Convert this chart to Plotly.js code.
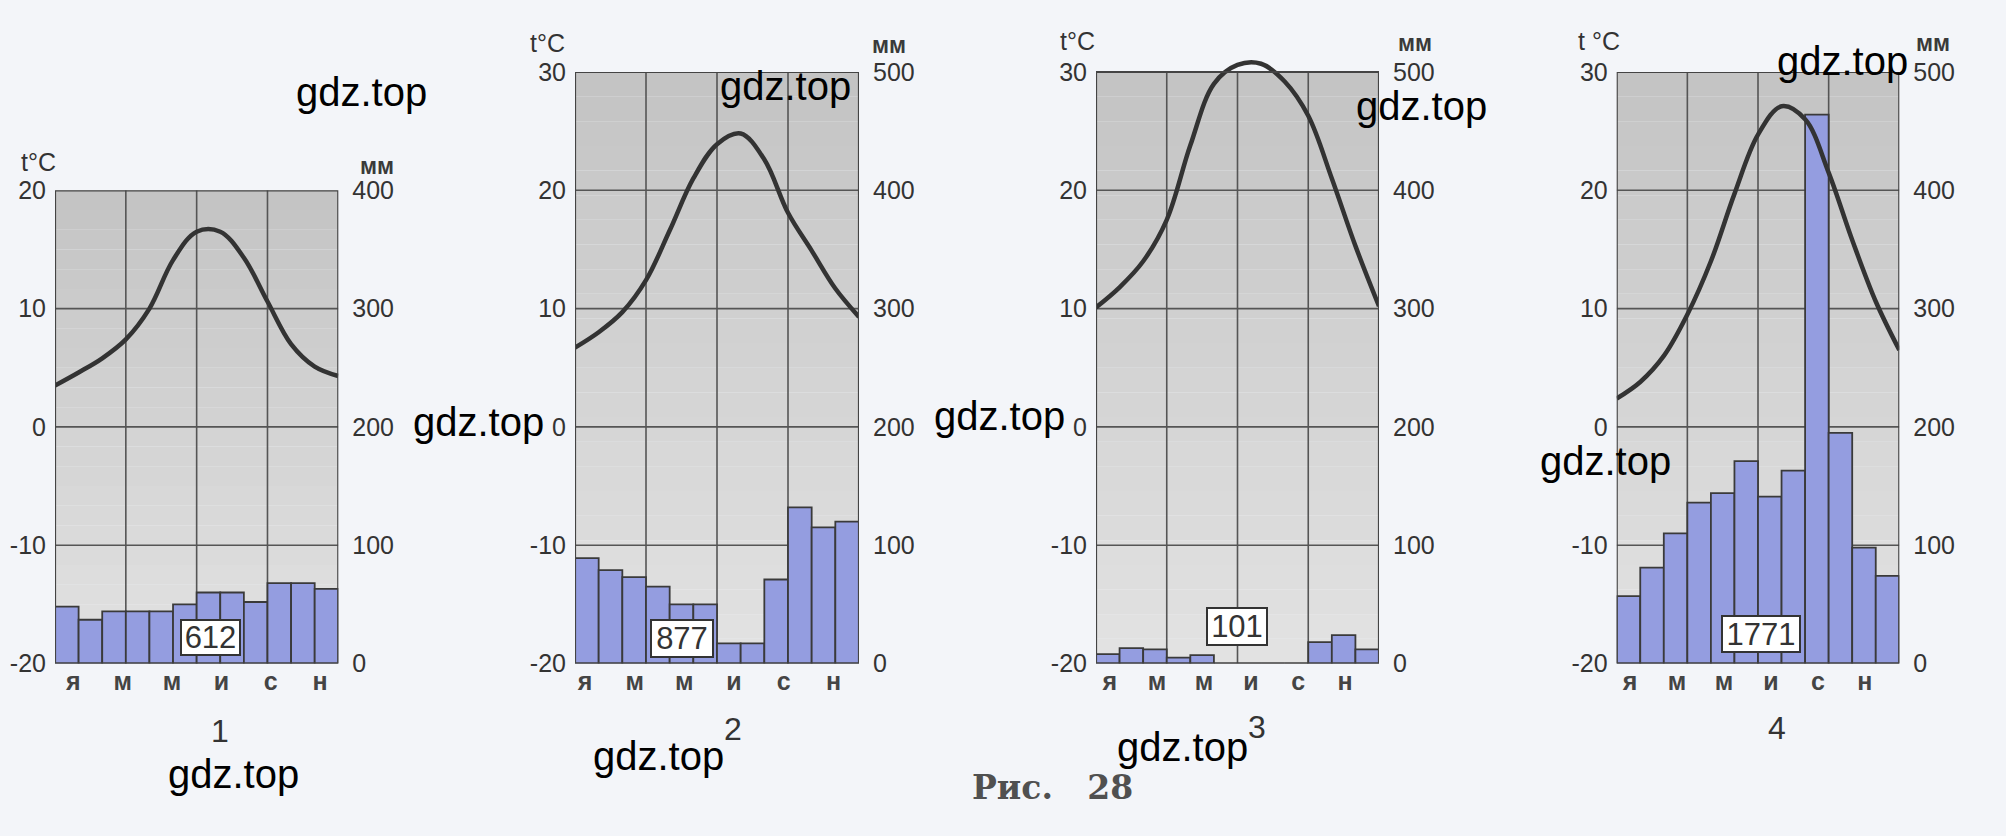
<!DOCTYPE html>
<html>
<head>
<meta charset="utf-8">
<script src="https://cdn.plot.ly/plotly-3.0.1.min.js"></script>
<style>html,body{margin:0;padding:0;background:#f3f5f9;}#chart{width:2006px;height:836px;}</style>
</head>
<body>
<div id="chart"></div>
<script>
// ---------- data ----------
const monthLabels = ['я', 'м', 'м', 'и', 'с', 'н'];
const monthCount = 12;
// temperature (°C) at month boundaries (start of Jan ... end of Dec)
const temp1 = [3.5, 4.6, 5.8, 7.4, 10.0, 14.1, 16.5, 16.5, 14.3, 10.6, 7.0, 5.1, 4.3];
const temp2 = [6.7, 8.0, 9.7, 12.4, 16.6, 21.0, 23.9, 24.8, 22.6, 18.1, 14.9, 11.7, 9.3];
const temp3 = [10.1, 11.8, 14.0, 17.5, 23.8, 29.0, 30.6, 30.7, 29.2, 26.3, 21.0, 15.3, 10.2];
const temp4 = [2.4, 3.8, 6.0, 9.5, 14.0, 19.7, 24.7, 27.1, 26.0, 21.5, 15.8, 10.6, 6.5];
// monthly precipitation (mm)
const precip1 = [48, 37, 44, 44, 44, 50, 60, 60, 52, 68, 68, 63];
const precip2 = [89, 79, 73, 65, 50, 50, 17, 17, 71, 132, 115, 120];
const precip3 = [8, 13, 12, 5, 7, 0, 0, 0, 0, 18, 24, 12];
const precip4 = [57, 81, 110, 136, 144, 171, 141, 163, 464, 195, 98, 74];
const totals = ['612', '877', '101', '1771'];
const chartNumbers = ['1', '2', '3', '4'];
const tempTops = [20, 30, 30, 30];
const tempTickSets = [[-20, -10, 0, 10, 20], [-20, -10, 0, 10, 20, 30], [-20, -10, 0, 10, 20, 30], [-20, -10, 0, 10, 20, 30]];
const mmTickSets = [[0, 100, 200, 300, 400], [0, 100, 200, 300, 400, 500], [0, 100, 200, 300, 400, 500], [0, 100, 200, 300, 400, 500]];
const tempUnitLabels = ['t°C', 't°C', 't°C', 't °C'];
const mmUnitLabel = 'мм';
const watermark = 'gdz.top';
const figureCaption = 'Рис.\u00a0\u00a0 28';

const temps = [temp1, temp2, temp3, temp4];
const precips = [precip1, precip2, precip3, precip4];

// ---------- layout geometry ----------
const W = 2006, H = 836;
const PX_BOTTOM = 663.5, PX_PER_DEG = 11.83;
const px = x => x / W;
const py = y => 1 - y / H;
const panels = [
  {left: 55, right: 338.3, axisTop: 20, tickStart: 0.78, tickStep: 2.09,
   box: [210.5, 637, 57, 33], num: [220, 731], tLab: [38, 162], mLab: [377, 166]},
  {left: 575, right: 859, axisTop: 30, tickStart: 0.42, tickStep: 2.1,
   box: [681.7, 638.5, 60, 35], num: [733, 729], tLab: [547, 43], mLab: [889, 45]},
  {left: 1096, right: 1379, axisTop: 31.2, tickStart: 0.59, tickStep: 1.995,
   box: [1236.8, 626.6, 58, 35], num: [1257, 727], tLab: [1077, 41], mLab: [1415, 43]},
  {left: 1616.7, right: 1899.3, axisTop: 30, tickStart: 0.565, tickStep: 1.995,
   box: [1760.5, 633.7, 76, 34], num: [1777, 728], tLab: [1599, 41], mLab: [1933, 43]}
];
const watermarkPos = [[361, 92], [785, 86], [1421, 106], [1842, 61], [478, 422], [999, 416], [1605, 461], [233, 774], [658, 756], [1182, 747]];

// background shading of the panels (decoration): darker at top, lighter at bottom
const BG_TOP = [196, 196, 196], BG_BOTTOM = [226, 226, 226], BG_BANDS = 24;
const mix = t => 'rgb(' + BG_TOP.map((c, k) => Math.round(c + (BG_BOTTOM[k] - c) * t)).join(',') + ')';

const traces = [];
const layout = {
  width: W, height: H,
  margin: {l: 0, r: 0, t: 0, b: 0, pad: 0},
  paper_bgcolor: '#f3f5f9',
  plot_bgcolor: 'rgba(0,0,0,0)',
  showlegend: false,
  font: {family: 'Liberation Sans, Arial, sans-serif', color: '#333'},
  shapes: [], annotations: []
};

const tickFont = {family: 'Liberation Sans, Arial, sans-serif', size: 25, color: '#333'};

panels.forEach((p, i) => {
  const n = i + 1;
  const xName = n === 1 ? 'x' : 'x' + n;
  const mmName = 'y' + (2 * n - 1 === 1 ? '' : 2 * n - 1);
  const tName = 'y' + (2 * n);
  const xKey = n === 1 ? 'xaxis' : 'xaxis' + n;
  const mmKey = 'yaxis' + (2 * n - 1 === 1 ? '' : 2 * n - 1);
  const tKey = 'yaxis' + (2 * n);
  const frameTop = tempTops[i];
  const yDomTop = py(PX_BOTTOM - (p.axisTop + 20) * PX_PER_DEG);
  const yDomBot = py(PX_BOTTOM);

  const tickvals = monthLabels.map((_, k) => p.tickStart + k * p.tickStep);
  layout[xKey] = {
    domain: [px(p.left), px(p.right)], range: [0, monthCount], anchor: mmName,
    tickmode: 'array', tickvals: tickvals, ticktext: monthLabels,
    showgrid: false, zeroline: false, showline: false, ticks: '',
    tickfont: {family: 'Liberation Sans, Arial, sans-serif', size: 25, color: '#444', weight: 'bold'},
    ticklabelstandoff: 0, fixedrange: true
  };
  layout[mmKey] = {
    domain: [yDomBot, yDomTop], anchor: xName, side: 'right',
    range: [0, (p.axisTop + 20) * 10],
    tickmode: 'array', tickvals: mmTickSets[i], ticktext: mmTickSets[i].map(String),
    showgrid: false, zeroline: false, showline: false, ticks: '',
    tickfont: tickFont, ticklabelstandoff: 13, fixedrange: true
  };
  layout[tKey] = {
    overlaying: mmName, anchor: xName, side: 'left',
    range: [-20, p.axisTop],
    tickmode: 'array', tickvals: tempTickSets[i], ticktext: tempTickSets[i].map(String),
    showgrid: false, zeroline: false, showline: false, ticks: '',
    tickfont: tickFont, ticklabelstandoff: 8, fixedrange: true
  };

  // precipitation bars (base axis, right side)
  traces.push({
    type: 'bar', xaxis: xName, yaxis: mmName,
    x: precips[i].map((_, k) => k + 0.5), y: precips[i], width: 1,
    marker: {color: '#949de0', line: {color: '#3a3a3a', width: 1.8}},
    hoverinfo: 'skip'
  });
  // temperature curve (overlay axis, left side)
  traces.push({
    type: 'scatter', mode: 'lines', xaxis: xName, yaxis: tName,
    x: temps[i].map((_, k) => k), y: temps[i],
    line: {shape: 'spline', smoothing: 1, color: '#333', width: 4.5},
    hoverinfo: 'skip'
  });

  // panel background bands
  const span = frameTop + 20;
  for (let b = 0; b < BG_BANDS; b++) {
    const y1 = frameTop - span * b / BG_BANDS;
    const y0 = frameTop - span * (b + 1) / BG_BANDS;
    layout.shapes.push({type: 'rect', xref: xName, yref: tName, x0: 0, x1: monthCount, y0: y0, y1: y1,
      line: {width: 0}, fillcolor: mix(b / (BG_BANDS - 1)), layer: 'below'});
  }
  // grid lines
  tempTickSets[i].filter(v => v > -20 && v < frameTop).forEach(v => {
    layout.shapes.push({type: 'line', xref: xName, yref: tName, x0: 0, x1: monthCount, y0: v, y1: v,
      line: {color: '#555', width: 1.6}, layer: 'below'});
  });
  [3, 6, 9].forEach(m => {
    layout.shapes.push({type: 'line', xref: xName, yref: tName, x0: m, x1: m, y0: -20, y1: frameTop,
      line: {color: '#555', width: 1.6}, layer: 'below'});
  });
  // frame
  layout.shapes.push({type: 'rect', xref: xName, yref: tName, x0: 0, x1: monthCount, y0: -20, y1: frameTop,
    line: {color: '#444', width: 2.2}, fillcolor: 'rgba(0,0,0,0)', layer: 'above'});

  // total precipitation box
  layout.annotations.push({
    xref: 'paper', yref: 'paper', x: px(p.box[0]), y: py(p.box[1]), xanchor: 'center', yanchor: 'middle',
    text: totals[i], showarrow: false, width: p.box[2], height: p.box[3],
    bgcolor: '#ffffff', bordercolor: '#333', borderwidth: 2, borderpad: 0,
    font: {family: 'Liberation Sans, Arial, sans-serif', size: 31, color: '#333'}
  });
  // chart number
  layout.annotations.push({
    xref: 'paper', yref: 'paper', x: px(p.num[0]), y: py(p.num[1]), xanchor: 'center', yanchor: 'middle',
    text: chartNumbers[i], showarrow: false,
    font: {family: 'Liberation Sans, Arial, sans-serif', size: 32, color: '#333'}
  });
  // unit labels
  layout.annotations.push({
    xref: 'paper', yref: 'paper', x: px(p.tLab[0]), y: py(p.tLab[1]), xanchor: 'center', yanchor: 'middle',
    text: tempUnitLabels[i], showarrow: false,
    font: {family: 'Liberation Sans, Arial, sans-serif', size: 25, color: '#333'}
  });
  layout.annotations.push({
    xref: 'paper', yref: 'paper', x: px(p.mLab[0]), y: py(p.mLab[1]), xanchor: 'center', yanchor: 'middle',
    text: mmUnitLabel, showarrow: false,
    font: {family: 'Liberation Sans, Arial, sans-serif', size: 23, color: '#3a3a3a', weight: 'bold'}
  });
});

// figure caption
layout.annotations.push({
  xref: 'paper', yref: 'paper', x: px(1052), y: py(787), xanchor: 'center', yanchor: 'middle',
  text: figureCaption, showarrow: false,
  font: {family: 'DejaVu Serif, serif', size: 33, color: '#505050', weight: 'bold'}
});
// watermarks
watermarkPos.forEach(w => {
  layout.annotations.push({
    xref: 'paper', yref: 'paper', x: px(w[0]), y: py(w[1]), xanchor: 'center', yanchor: 'middle',
    text: watermark, showarrow: false,
    font: {family: 'Liberation Sans, Arial, sans-serif', size: 40, color: '#000'}
  });
});

Plotly.newPlot('chart', traces, layout, {staticPlot: true, displayModeBar: false});
</script>
</body>
</html>
